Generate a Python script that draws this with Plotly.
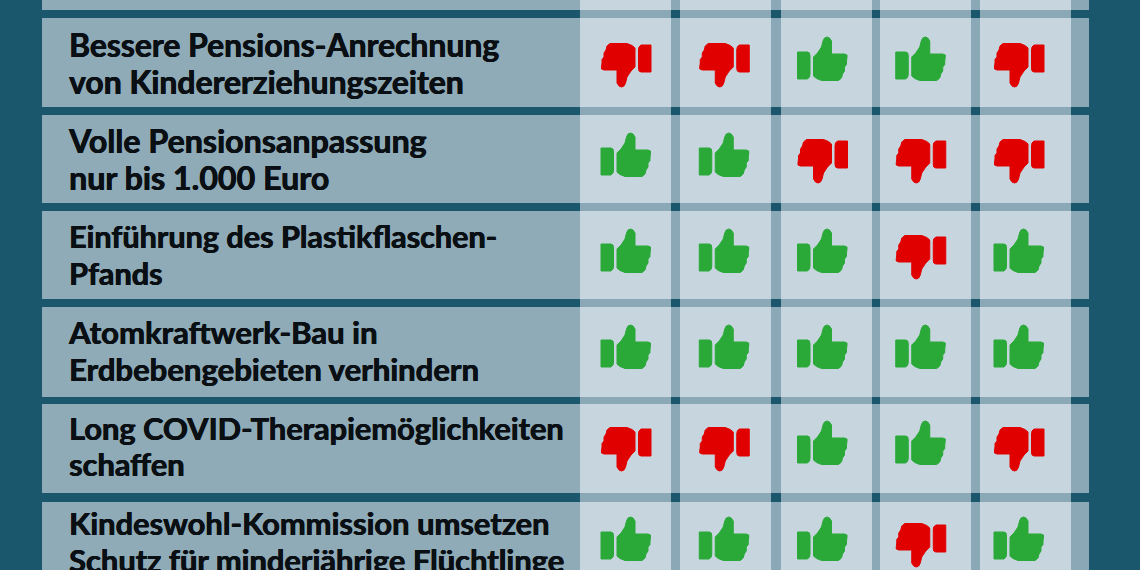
import plotly.graph_objects as go

# rows from the top, the first one is cut off by the picture edge
row_lines = [
    ["", "y"],
    ["Bessere Pensions-Anrechnung", "von Kindererziehungszeiten"],
    ["Volle Pensionsanpassung", "nur bis 1.000 Euro"],
    ["Einführung des Plastikflaschen-", "Pfands"],
    ["Atomkraftwerk-Bau in", "Erdbebengebieten verhindern"],
    ["Long COVID-Therapiemöglichkeiten", "schaffen"],
    ["Kindeswohl-Kommission umsetzen", "Schutz für minderjährige Flüchtlinge"],
]
row_font = [30, 31.9, 32.2, 30.6, 31.1, 30.8, 30.9]

# 1 = thumb up, 0 = thumb down, five parties per row
votes_row1 = [0, 0, 1, 1, 0]
votes_row2 = [1, 1, 0, 0, 0]
votes_row3 = [1, 1, 1, 0, 1]
votes_row4 = [1, 1, 1, 1, 1]
votes_row5 = [0, 0, 1, 1, 0]
votes_row6 = [1, 1, 1, 0, 1]
votes = [None, votes_row1, votes_row2, votes_row3, votes_row4, votes_row5, votes_row6]

W, H = 1140, 570
DARK = "#1b576c"
BAND = "#8fabb7"
CELL = "#c7d6de"
MID = "#8aa8b5"
GREEN = "#2aa939"
RED = "#e10000"
TEXT = "#0a0f14"

# axes are in column / row numbers, these tie them to the page
COL0_PX, COL_STEP = 626, 98.25
ROW0_PX, ROW_STEP = -34, 96


def col_of(px):
    return (px - COL0_PX) / COL_STEP


def row_of(px):
    return (px - ROW0_PX) / ROW_STEP


# the photo of the table is not quite regular, so band edges are measured
band_top = [-90, 18, 115, 211, 307, 404, 502]
band_bottom = [10, 106.5, 203, 299, 397, 493, 600]

# cell grid: 0 dark, 1 label band, 2 vote cell, 3 in-between strip
cell_left = [580, 680, 781, 880, 980]
cell_w = 91
x_edges = [42, 580]
col_kind = ["label"]
for left in cell_left:
    if left != 580:
        x_edges.append(left)
    x_edges.append(left + cell_w)
    col_kind.append("cell")
    if left != 980:
        col_kind.append("gap")
x_edges.append(1089)
col_kind.append("gap")

y_edges = []
row_kind = []
for r, (top, bottom) in enumerate(zip(band_top, band_bottom)):
    if r > 0:
        row_kind.append("gap")
    else:
        y_edges.append(top)
    if r > 0:
        y_edges.append(top)
    y_edges.append(bottom)
    row_kind.append("band")

z = []
for rk in row_kind:
    line = []
    for ck in col_kind:
        if rk == "gap":
            line.append({"label": 0, "cell": 3, "gap": 0}[ck])
        else:
            line.append({"label": 1, "cell": 2, "gap": 3}[ck])
    z.append(line)

scale = [
    [0.0, DARK], [0.25, DARK],
    [0.25, BAND], [0.5, BAND],
    [0.5, CELL], [0.75, CELL],
    [0.75, MID], [1.0, MID],
]

fig = go.Figure()
fig.add_trace(go.Heatmap(
    x=[col_of(p) for p in x_edges],
    y=[row_of(p) for p in y_edges],
    z=z,
    zmin=0,
    zmax=3,
    colorscale=scale,
    showscale=False,
    hoverinfo="skip",
))

# row labels, one point per text line so the line pitch can follow the picture
TEXT_TOP, TEXT_STEP, LINE_GAP = 49.5, 95.6, 36.5
tx, ty, tt, ts = [], [], [], []
for r, lines in enumerate(row_lines):
    for i, line in enumerate(lines):
        if line:
            # the lone y of the cut-off row sits further right and only its tail shows
            tx.append(col_of(287 if r == 0 else 69))
            ty.append(row_of(-4 if r == 0 else TEXT_TOP + (r - 1) * TEXT_STEP + i * LINE_GAP))
            tt.append(line)
            ts.append(row_font[r])
fig.add_trace(go.Scatter(
    x=tx,
    y=ty,
    text=tt,
    mode="text",
    textposition="middle right",
    # no heavier Lato is installed, a thin shadow thickens the bold
    textfont=dict(
        family="Lato", size=ts, color=TEXT, weight=700,
        shadow="0.5px 0 0 #0a0f14, -0.3px 0 0 #0a0f14",
    ),
    hoverinfo="skip",
    cliponaxis=False,
    showlegend=False,
))

# thumb outline in pixels around the anchor, y pointing up, thumb-up pose
CUFF = [(-25, -17), (-15, -17), (-13, -15), (-12.5, -12), (-12.5, 6), (-13, 9), (-15, 10), (-25, 10)]
HAND = [
    (-9, 5), (-9, -14), (-6, -16.5), (-1, -18.5), (16, -18.5), (19, -16), (20, -12),
    (22, -9), (22, -5), (24, -2.5), (24, 1), (24.5, 5), (24.5, 7), (22, 8),
    (9, 8), (9, 21), (7, 24), (4.5, 25), (2, 24), (0.5, 21), (-1, 15), (-5, 9),
]


def glyph_path(points, flip):
    sign = -1 if flip else 1
    parts = [f"{sign * x},{sign * y}" for x, y in points]
    return "M" + "L".join(parts) + "Z"


for r, row in enumerate(votes):
    if row is None:
        continue
    for c, v in enumerate(row):
        color = GREEN if v else RED
        fig.add_shape(
            type="path",
            path=glyph_path(CUFF, not v) + " " + glyph_path(HAND, not v),
            xsizemode="pixel",
            ysizemode="pixel",
            xanchor=c,
            yanchor=r,
            xref="x",
            yref="y",
            fillcolor=color,
            line=dict(color=color, width=1),
        )

fig.update_layout(
    width=W,
    height=H,
    margin=dict(l=0, r=0, t=0, b=0),
    paper_bgcolor=DARK,
    plot_bgcolor=DARK,
    showlegend=False,
)
fig.update_xaxes(range=[col_of(0), col_of(W)], visible=False, fixedrange=True)
fig.update_yaxes(range=[row_of(H), row_of(0)], visible=False, fixedrange=True)

fig.write_html(
    "out.html",
    config={"displayModeBar": False},
    post_script="document.body.style.margin='0';document.body.style.overflow='hidden';",
)
